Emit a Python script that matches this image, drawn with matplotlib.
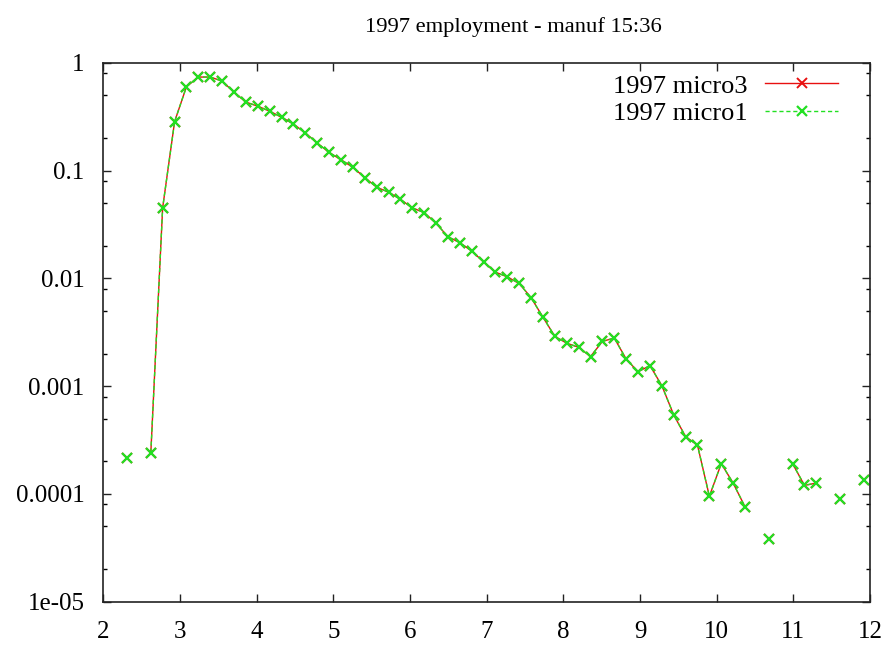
import numpy as np
import matplotlib
matplotlib.use("Agg")
import matplotlib.pyplot as plt
from matplotlib.ticker import LogLocator, FixedLocator, NullFormatter

plt.rcParams['font.family'] = ['Liberation Serif', 'DejaVu Serif']

title = "1997 employment - manuf 15:36"
labels = ["1997 micro3", "1997 micro1"]

# x positions of bins
x_vals = [2.31, 2.465, 2.62,
          2.774, 2.93, 3.085, 3.24, 3.395, 3.55, 3.705, 3.86, 4.015, 4.17,
          4.325, 4.48, 4.635, 4.79, 4.945, 5.10, 5.255, 5.41, 5.565, 5.72,
          5.875, 6.03, 6.185, 6.34, 6.495, 6.65, 6.805, 6.96, 7.115, 7.27,
          7.425, 7.58, 7.735, 7.89, 8.045, 8.20, 8.355, 8.51, 8.665, 8.82,
          8.975, 9.13, 9.285, 9.44, 9.595, 9.75, 9.905, 10.06, 10.215, 10.37,
          10.525, 10.68, 10.835, 10.99, 11.145, 11.30, 11.455, 11.61, 11.765, 11.92]

# density values (NaN = empty bin, not drawn)
micro3 = [2.15e-4, np.nan, 2.42e-4,
          0.045, 0.284, 0.60, 0.736, 0.736, 0.675, 0.533, 0.431, 0.395, 0.355,
          0.312, 0.27, 0.223, 0.18, 0.147, 0.126, 0.107, 0.086, 0.070, 0.063,
          0.054, 0.045, 0.0407, 0.0324, 0.0243, 0.0214, 0.0179, 0.0142, 0.0114, 0.0103,
          0.00895, 0.0066, 0.00435, 0.00289, 0.00250, 0.00229, 0.00188, 0.00260, 0.00279, 0.00178,
          0.00136, 0.00155, 0.00101, 0.00054, 0.00034, 0.000283, 0.0000950, 0.000191, 0.000126, 0.0000758,
          np.nan, 3.84e-5, np.nan, 1.91e-4, 1.20e-4, 1.26e-4, np.nan, 9.04e-5, np.nan, 1.36e-4]
micro1 = list(micro3)

x_ticks = [2, 3, 4, 5, 6, 7, 8, 9, 10, 11, 12]
y_ticks = [1e-5, 1e-4, 1e-3, 1e-2, 1e-1, 1]
y_ticklabels = ["1e-05", "0.0001", "0.001", "0.01", "0.1", "1"]

fig = plt.figure(figsize=(8.92, 6.46), dpi=100)
ax = fig.add_axes([103.3/892, 1-601.7/646, (870-103.3)/892, (601.7-62.7)/646])

red = '#e81010'
green = '#22e022'
ax.plot(x_vals, micro3, color=red, lw=1.0, ls='-', marker='x', ms=7, mew=1.4,
        label=labels[0])
ax.plot(x_vals, micro1, color=green, lw=1.0, ls=(0, (3, 2)), marker='x', ms=7.5, mew=1.6,
        label=labels[1])

ax.set_yscale('log')
ax.set_xlim(2, 12)
ax.set_ylim(1e-5, 1)
ax.set_xticks(x_ticks)
ax.set_xticklabels([str(t) for t in x_ticks])
ax.yaxis.set_major_locator(FixedLocator(y_ticks))
ax.set_yticklabels(y_ticklabels)
ax.yaxis.set_minor_locator(LogLocator(base=10, subs=[2, 5, 8], numticks=20))
ax.yaxis.set_minor_formatter(NullFormatter())

ax.tick_params(axis='both', which='major', direction='in', length=6, width=1,
               top=True, right=True, labelsize=18, colors='#222222',
               labelcolor='black')
ax.tick_params(axis='y', which='major', pad=13.5)
ax.tick_params(axis='x', which='major', pad=14)
ax.tick_params(axis='y', which='minor', direction='in', length=3, width=1,
               left=True, right=True)
for s in ax.spines.values():
    s.set_linewidth(1.2)
    s.set_color('#222222')

fig.text(513/892, 1-31.7/646, title, fontsize=16.2, ha='center', va='baseline')

leg = ax.legend(loc='upper right', frameon=False, markerfirst=False,
                fontsize=19, handlelength=2.75, numpoints=1,
                borderaxespad=0.2, labelspacing=0.15, handletextpad=0.68,
                bbox_to_anchor=(0.979, 1.008))
for t in leg.get_texts():
    t.set_ha('right')

fig.savefig("out.png", dpi=100)
